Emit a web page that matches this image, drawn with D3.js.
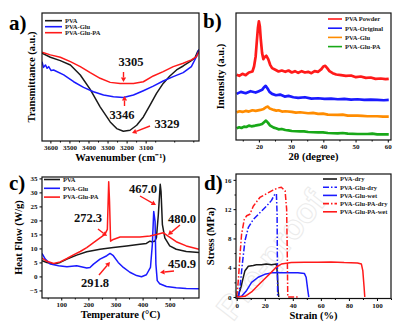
<!DOCTYPE html>
<meta charset="utf-8" />
<html>
<head>
<script src="https://cdn.jsdelivr.net/npm/d3@7"></script>
<style>
body { margin: 0; background: #fff; }
text { font-family: "Liberation Serif", "Times New Roman", serif; font-weight: bold; }
</style>
</head>
<body>
<div id="viz"></div>
<script>

// a) FTIR  [wavenumber, transmittance a.u.]
var ftirPVA = [[3644,68.6],[3600,65.4],[3548,62.8],[3495,59.4],[3443,51.6],[3391,40.3],[3339,26.7],[3286,14.9],[3252,9.7],[3217,7.6],[3182,8.4],[3147,12.3],[3112,18.8],[3077,28.0],[3043,37.2],[3008,45.0],[2973,50.8],[2938,55.5],[2903,58.6],[2868,62.0],[2842,64.7],[2825,70.7]];
var ftirGlu = [[3644,62.0],[3636,57.5],[3626,59.4],[3617,56.8],[3609,58.1],[3596,55.0],[3583,55.5],[3530,51.6],[3478,46.3],[3426,41.9],[3374,38.5],[3321,35.9],[3269,34.6],[3217,34.0],[3164,35.9],[3112,39.3],[3060,42.9],[3008,46.9],[2955,50.3],[2903,53.4],[2860,58.1],[2833,66.0],[2820,71.7]];
var ftirGluPA = [[3644,69.4],[3600,67.3],[3548,65.4],[3495,62.0],[3443,58.1],[3391,53.4],[3339,49.0],[3286,45.8],[3234,45.0],[3164,45.0],[3112,46.3],[3060,50.8],[3008,54.2],[2955,58.1],[2903,60.7],[2860,63.4],[2833,66.0],[2820,69.9]];
var ftirTicks = [3600, 3500, 3400, 3300, 3200, 3100];

// b) XRD  [2theta, intensity a.u.]
var xrdPowder = [[13.1,197],[13.9,194],[14.9,200],[15.9,196],[16.9,204],[18.0,207],[18.5,222],[19.0,252],[19.4,302],[19.7,337],[20.0,357],[20.3,342],[20.6,302],[21.0,262],[21.4,244],[21.8,250],[22.3,254],[22.9,244],[23.5,227],[24.1,217],[25.1,212],[26.1,207],[27.1,210],[28.2,206],[29.2,210],[30.2,204],[31.2,208],[32.2,203],[33.3,208],[34.3,204],[35.3,206],[36.3,202],[37.3,208],[38.4,206],[39.4,214],[40.0,222],[40.6,224],[41.2,217],[41.9,208],[42.9,202],[44.0,198],[45.5,196],[47.0,194],[48.6,195],[50.1,190],[51.6,192],[53.2,188],[54.7,189],[56.2,185],[57.8,186],[59.3,184],[60.3,185]];
var xrdOriginal = [[13.1,140],[14.4,146],[15.9,142],[17.4,148],[19.0,144],[20.0,148],[21.0,152],[21.6,160],[22.1,164],[22.7,156],[23.3,146],[24.1,140],[25.3,136],[26.6,138],[28.0,132],[29.2,134],[30.7,130],[32.2,128],[34.3,130],[36.3,126],[38.4,127],[40.4,125],[42.4,126],[44.5,124],[46.5,125],[48.6,123],[50.6,124],[52.7,122],[54.7,123],[56.7,122],[58.8,121],[60.3,122]];
var xrdGlu = [[13.1,85],[14.0,88],[14.9,86],[15.9,89],[16.9,87],[18.0,91],[19.0,89],[20.5,92],[21.5,95],[22.2,100],[22.8,102],[23.4,96],[24.6,92],[25.4,90],[26.1,91],[27.2,87],[28.2,88],[30.2,86],[31.5,84],[32.8,85],[35.3,82],[36.8,83],[38.4,80],[39.9,81],[41.4,78],[44.5,77],[46.0,78],[47.6,75],[50.6,75],[52.1,74],[53.7,73],[56.7,73],[58.5,72],[60.3,72]];
var xrdGluPA = [[13.1,37],[13.9,40],[14.6,38],[15.4,42],[16.1,41],[16.9,45],[17.7,43],[18.5,44],[19.2,46],[20.0,47],[21.0,50],[21.7,56],[22.2,60],[22.8,54],[23.4,46],[24.6,39],[25.3,37],[26.1,34],[27.1,35],[28.2,32],[29.2,31],[30.2,29],[32.8,28],[34.0,28],[35.3,26],[38.4,25],[39.9,25],[41.4,23],[44.5,22],[46.0,23],[47.6,21],[50.6,20],[53.7,20],[55.2,21],[56.7,19],[60.3,19]];
var xrdTicks = [20, 30, 40, 50, 60];

// c) DSC  [temperature, heat flow W/g]
var dscPVA = [[29,5.6],[47,5],[72,4.4],[96,5],[121,6.2],[157,7.6],[194,8.8],[243,9.7],[292,10.3],[341,10.9],[390,11.5],[414,11.8],[427,12.6],[433,12.4],[445,12.6],[451,13.8],[458,22],[465,32.9],[468,30.3],[473,18.5],[482,13.8],[500,10.9],[524,9.7],[561,8.9],[608,8.5]];
var dscGlu = [[29,8.2],[41,6.2],[60,4.4],[90,3.8],[121,3.5],[157,3.8],[194,3],[206,3.2],[219,4.4],[243,6.2],[268,7.4],[280,8.2],[292,7.4],[310,5],[329,3.2],[353,1.5],[378,0.3],[396,-0.1],[414,0.6],[429,3.2],[436,11.5],[441,23.2],[446,19.7],[449,4.4],[454,-1.5],[463,-2.6],[488,-3.6],[524,-4],[561,-4.3],[608,-4.4]];
var dscGluPA = [[29,6.5],[47,5.4],[72,4.6],[96,5.2],[121,6.4],[145,7.7],[170,8.9],[194,10.3],[219,12.1],[243,13.8],[261,15],[270,16.8],[275,33.8],[278,26.8],[282,12.6],[292,13.2],[317,14.1],[353,14.1],[390,14.1],[427,14.4],[451,15],[476,15.6],[494,14.4],[524,12.4],[561,10.9],[608,9.7]];
var dscXTicks = [100, 200, 300, 400, 500];
var dscYTicks = [-5, 0, 5, 10, 15, 20, 25, 30, 35];

// d) tensile  [strain %, stress MPa]
var tensPVAdry = [[0,0],[1.2,0.2],[3.1,1.4],[4.7,2.7],[5.9,3.6],[8.3,4.2],[11.8,4.3],[14,4.4],[17.7,4.4],[21,4.5],[24.8,4.4],[28.3,4.5],[29,3.2],[29.5,0.9],[30,0]];
var tensGluDry = [[1.2,0],[2.4,1.4],[4,4.5],[5.9,7.7],[8.3,9.5],[11.8,10.6],[16.5,11.5],[21.2,12.4],[24.8,13.2],[27.1,14],[28.3,14.1],[28.8,11.3],[29,4.5],[29.2,0]];
var tensGluWet = [[0,0],[3.5,0.1],[7.1,0.9],[10.6,2],[15.3,2.7],[20,3.1],[24.8,3.3],[34.2,3.3],[43.6,3.3],[48.3,3.2],[49.5,2.7],[50.7,0.9],[51.4,0]];
var tensGluPAdry = [[0,0],[1.2,2.3],[2.4,5.9],[3.5,8.6],[5.4,10.6],[7.1,11.1],[9.4,11.3],[11.8,12.4],[16.5,13.6],[21.2,14.1],[25.9,14.6],[29.5,14.9],[31.8,15],[34.5,14.5],[35.6,12],[36,6.8],[36.4,0],[44,0]];
var tensGluPAwet = [[0,0],[5.9,0.1],[10.6,0.7],[15.3,1.6],[20,2.5],[24.8,3.4],[28.3,4.1],[31.8,4.5],[38.9,4.7],[48.3,4.75],[57.8,4.75],[67.2,4.8],[76.6,4.7],[86.1,4.65],[88.9,4.5],[89.9,3.6],[90.8,1.4],[91.3,0]];
var tensXTicks = [0, 20, 40, 60, 80, 100];
var tensYTicks = [0, 4, 8, 12, 16];

var RED = "#ff1a1a", BLUE = "#1a1aff", BLACK = "#1a1a1a", ORANGE = "#ff8c00", GREEN = "#18a818";
var DASHDOT = "6,2,1.5,2";

var svg = d3.select("#viz").append("svg")
    .attr("width", 409)
    .attr("height", 333);

svg.append("rect").attr("width", 409).attr("height", 333).attr("fill", "#fff");

// faint watermark
svg.append("text")
  .attr("transform", "translate(280,262) rotate(-52)")
  .attr("text-anchor", "middle")
  .style("font-family", "Liberation Sans, sans-serif")
  .style("font-size", "34px")
  .attr("fill", "none")
  .attr("stroke", "#ebebeb")
  .attr("stroke-width", 1)
  .text("Pre-proof");

function panel(o) {
  var g = svg.append("g");
  var x = d3.scaleLinear().domain(o.xd).range([o.l, o.r]);
  var y = d3.scaleLinear().domain(o.yd).range([o.b, o.t]);

  // bottom axis
  var ax = g.append("g").attr("transform", "translate(0," + o.b + ")")
    .call(d3.axisBottom(x).tickValues(o.xt).tickFormat(d3.format("d")).tickSize(2.5).tickSizeOuter(0).tickPadding(2));
  ax.select(".domain").remove();
  ax.selectAll("text").style("font-size", "7px").attr("fill", "#111");
  if (o.xm) {
    var axm = g.append("g").attr("transform", "translate(0," + o.b + ")")
      .call(d3.axisBottom(x).tickValues(o.xm).tickSize(1.5).tickSizeOuter(0).tickFormat(""));
    axm.select(".domain").remove();
  }
  if (o.yt) {
    var ay = g.append("g").attr("transform", "translate(" + o.l + ",0)")
      .call(d3.axisLeft(y).tickValues(o.yt).tickFormat(d3.format("d")).tickSize(2.5).tickSizeOuter(0).tickPadding(2));
    ay.select(".domain").remove();
    ay.selectAll("text").style("font-size", "7px").attr("fill", "#111");
    if (o.ym) {
      var aym = g.append("g").attr("transform", "translate(" + o.l + ",0)")
        .call(d3.axisLeft(y).tickValues(o.ym).tickSize(1.5).tickSizeOuter(0).tickFormat(""));
      aym.select(".domain").remove();
    }
  }

  var clip = "clip" + o.id;
  g.append("clipPath").attr("id", clip).append("rect")
    .attr("x", o.l).attr("y", o.t).attr("width", o.r - o.l).attr("height", o.b - o.t);

  var line = d3.line().x(function(d) { return x(d[0]); }).y(function(d) { return y(d[1]); });
  o.series.forEach(function(s) {
    g.append("path")
      .datum(s.data)
      .attr("clip-path", "url(#" + clip + ")")
      .attr("d", line)
      .attr("fill", "none")
      .attr("stroke", s.color)
      .attr("stroke-width", s.w || 1.5)
      .attr("stroke-linejoin", "round")
      .attr("stroke-dasharray", s.dash || null);
  });

  g.append("rect")
    .attr("x", o.l).attr("y", o.t).attr("width", o.r - o.l).attr("height", o.b - o.t)
    .attr("fill", "none").attr("stroke", "#111").attr("stroke-width", 1.2);

  // legend
  o.legend.items.forEach(function(s, i) {
    var ly = o.legend.y + i * o.legend.dy;
    g.append("line")
      .attr("x1", o.legend.x).attr("x2", o.legend.x + o.legend.len)
      .attr("y1", ly).attr("y2", ly)
      .attr("stroke", s.color).attr("stroke-width", 1.6)
      .attr("stroke-dasharray", s.dash || null);
    g.append("text")
      .attr("x", o.legend.x + o.legend.len + 3).attr("y", ly + 2.3)
      .style("font-size", "6.5px").attr("fill", "#222")
      .text(s.name);
  });

  // titles
  g.append("text")
    .attr("x", (o.l + o.r) / 2 + (o.xtOff || 0)).attr("y", o.b + 20)
    .attr("text-anchor", "middle").style("font-size", "10.5px")
    .text(o.xlabel);
  g.append("text")
    .attr("transform", "translate(" + o.ylx + "," + (o.t + o.b) / 2 + ") rotate(-90)")
    .attr("text-anchor", "middle").style("font-size", "10.5px")
    .text(o.ylabel);
  g.append("text")
    .attr("x", o.tag[0]).attr("y", o.tag[1])
    .style("font-size", "21px")
    .text(o.tagText);

  return { g: g, x: x, y: y };
}

function note(p, txt, tx, ty, a) {
  p.g.append("text").attr("x", tx).attr("y", ty).attr("text-anchor", "middle")
    .style("font-size", "12.5px").attr("fill", "#111").text(txt);
  if (a) arrow(p.g, a[0], a[1], a[2], a[3]);
}

function arrow(g, x1, y1, x2, y2) {
  var ang = Math.atan2(y2 - y1, x2 - x1);
  var hl = 4.5, hw = 2.6;
  var bx = x2 - hl * Math.cos(ang), by = y2 - hl * Math.sin(ang);
  g.append("line").attr("x1", x1).attr("y1", y1).attr("x2", bx).attr("y2", by)
    .attr("stroke", RED).attr("stroke-width", 1.4);
  g.append("path")
    .attr("d", "M" + x2 + "," + y2 +
      "L" + (bx + hw * Math.sin(ang)) + "," + (by - hw * Math.cos(ang)) +
      "L" + (bx - hw * Math.sin(ang)) + "," + (by + hw * Math.cos(ang)) + "Z")
    .attr("fill", RED);
}

// a)
var sa = [
  { name: "PVA", data: ftirPVA, color: BLACK },
  { name: "PVA-Glu", data: ftirGlu, color: BLUE },
  { name: "PVA-Glu-PA", data: ftirGluPA, color: RED }
];
var pa = panel({
  id: "a", l: 42, r: 199, t: 13, b: 141,
  xd: [3644, 2820], yd: [0, 100],
  xt: ftirTicks, xm: [3550, 3450, 3350, 3250, 3150, 3050, 2950, 2850],
  series: sa,
  legend: { x: 45, y: 20.7, dy: 6, len: 17, items: sa },
  xlabel: "Wavenumber (cm\u207B\u00B9)", ylabel: "Transmittance (a.u.)", ylx: 35,
  tag: [9, 30], tagText: "a)"
});
note(pa, "3305", 131, 66, [123.5, 72, 123.5, 82]);
note(pa, "3346", 122, 119, [124.5, 106, 124.5, 96]);
note(pa, "3329", 167, 128, [150, 126, 132, 133]);

// b)
var sb = [
  { name: "PVA Powder", data: xrdPowder, color: RED },
  { name: "PVA-Original", data: xrdOriginal, color: BLUE },
  { name: "PVA-Glu", data: xrdGlu, color: ORANGE },
  { name: "PVA-Glu-PA", data: xrdGluPA, color: GREEN }
];
sb.forEach(function(s) { s.w = 2.7; });
var pb = panel({
  id: "b", l: 236, r: 391, t: 13, b: 140,
  xd: [12.9, 61], yd: [2, 382],
  xt: xrdTicks, xm: [15, 25, 35, 45, 55],
  series: sb,
  legend: { x: 328, y: 19, dy: 9.2, len: 14, items: sb },
  xlabel: "2\u03B8 (degree)", ylabel: "Intensity (a.u.)", ylx: 224,
  tag: [203, 28], tagText: "b)"
});

// c)
var sc = [
  { name: "PVA", data: dscPVA, color: BLACK },
  { name: "PVA-Glu", data: dscGlu, color: BLUE },
  { name: "PVA-Glu-PA", data: dscGluPA, color: RED }
];
var pc = panel({
  id: "c", l: 42, r: 199, t: 177, b: 298,
  xd: [29, 608], yd: [-7.7, 35.5],
  xt: dscXTicks, xm: [50, 150, 250, 350, 450, 550],
  yt: dscYTicks,
  series: sc,
  legend: { x: 44, y: 179.5, dy: 8.8, len: 16, items: sc },
  xlabel: "Temperature (\u00B0C)", ylabel: "Heat Flow (W/g)", ylx: 22,
  tag: [9, 190], tagText: "c)"
});
note(pc, "467.0", 143, 193, [140, 196, 156, 205]);
note(pc, "272.3", 88, 222, [98, 229, 107, 236]);
note(pc, "480.0", 182, 223, [180, 225, 168, 235]);
note(pc, "291.8", 95, 287, [99, 275, 110, 262]);
note(pc, "450.9", 182, 268, [174, 271, 160, 272.5]);

// d)
var sd = [
  { name: "PVA-dry", data: tensPVAdry, color: BLACK },
  { name: "PVA-Glu-dry", data: tensGluDry, color: BLUE, dash: DASHDOT },
  { name: "PVA-Glu-wet", data: tensGluWet, color: BLUE },
  { name: "PVA-Glu-PA-dry", data: tensGluPAdry, color: RED, dash: DASHDOT },
  { name: "PVA-Glu-PA-wet", data: tensGluPAwet, color: RED }
];
var pd = panel({
  id: "d", l: 236, r: 391, t: 174, b: 298.5,
  xd: [-0.5, 110], yd: [-0.2, 16.8],
  xt: tensXTicks, xm: [10, 30, 50, 70, 90, 110],
  yt: tensYTicks, ym: [2, 6, 10, 14],
  series: sd,
  legend: { x: 323, y: 179, dy: 8.2, len: 14, items: sd },
  xlabel: "Strain (%)", ylabel: "Stress (MPa)", ylx: 214,
  tag: [204, 190], tagText: "d)"
});

</script>
</body>
</html>
